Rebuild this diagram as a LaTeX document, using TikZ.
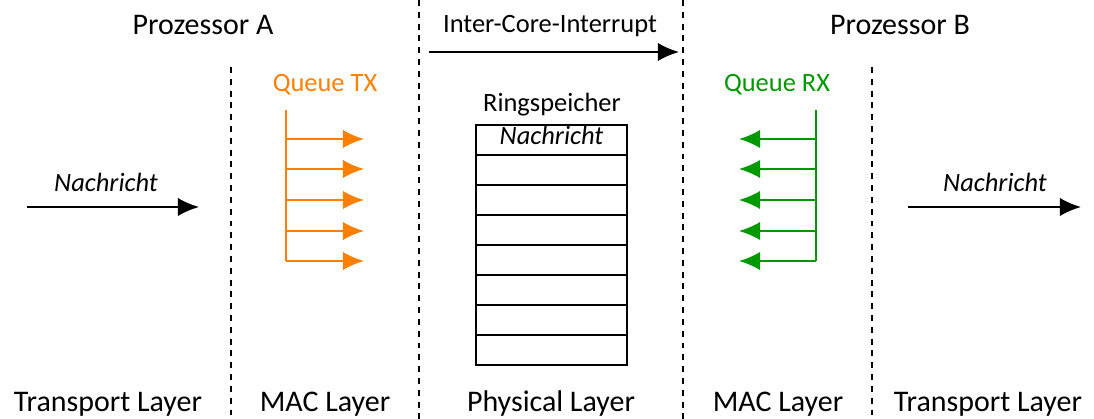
\documentclass[tikz,border=0pt]{standalone}
\usepackage{fontspec}
\setmainfont{Carlito}
\usetikzlibrary{arrows.meta}

\definecolor{txorange}{RGB}{255,128,0}
\definecolor{rxgreen}{RGB}{0,153,0}

\tikzset{
    big/.style={font=\fontsize{21.3}{25}\selectfont, anchor=base, inner sep=0pt},
    small/.style={font=\fontsize{18.8}{22}\selectfont, anchor=base, inner sep=0pt},
    layersep/.style={line width=1.2pt, dash pattern=on 4.2pt off 4.2pt},
    msg/.style={line width=1.4pt, -{Latex[length=15pt,width=13pt]}},
    queue/.style={line width=1.4pt},
}

\begin{document}
\begin{tikzpicture}[x=0.025cm, y=-0.025cm]
    \useasboundingbox (0, 0) rectangle (1094, 419);

    % layer borders
    \draw[layersep](231, 67) to (231, 419);
    \draw[layersep](419, 0) to (419, 419);
    \draw[layersep](683, 0) to (683, 419);
    \draw[layersep](872, 67) to (872, 419);

    \node[big] (procA) at(203, 35){Prozessor A};
    \node[big] (procB) at(900, 35){Prozessor B};

    \node[big] (transA) at(108, 412){Transport Layer};
    \node[big] (macA) at(325, 412){MAC Layer};
    \node[big] (phy) at(551, 412){Physical Layer};
    \node[big] (macB) at(778, 412){MAC Layer};
    \node[big] (transB) at(988, 412){Transport Layer};

    % messages in and out
    \coordinate (inS) at(27, 207);
    \coordinate (inE) at(199, 207);
    \draw[msg] (inS) -- (inE);
    \node[small] (inMsg) at(106, 192){\itshape Nachricht};

    \coordinate (outS) at(908, 207);
    \coordinate (outE) at(1081, 207);
    \draw[msg] (outS) -- (outE);
    \node[small] (outMsg) at(995, 192){\itshape Nachricht};

    % interrupt
    \coordinate (irqS) at(429, 52);
    \coordinate (irqE) at(679, 52);
    \draw[msg] (irqS) -- (irqE);
    \node[small] (irq) at(550, 33){Inter-Core-Interrupt};

    % ring buffer
    \node[small] (ringLabel) at(552, 112){Ringspeicher};
    \draw[line width=1.4pt] (476, 125) rectangle (627, 365);
    \foreach \r in {1,...,7}
        \draw[line width=1.4pt] (476, 125+30*\r) -- (627, 125+30*\r);
    \node[small] (ringMsg) at(551.5, 145){\itshape Nachricht};

    % queue TX
    \node[small, txorange] (txLabel) at(325, 92){Queue TX};
    \coordinate (txTop) at(286, 110);
    \coordinate (txBot) at(286, 261);
    \draw[queue, txorange] (txTop) -- (txBot);
    \foreach \y [count=\i] in {139, 169, 200, 231, 261}{
        \coordinate (txS\i) at(286, \y);
        \coordinate (txE\i) at(364, \y);
        \draw[msg, txorange] (txS\i) -- (txE\i);
    }

    % queue RX
    \node[small, rxgreen] (rxLabel) at(777, 92){Queue RX};
    \coordinate (rxTop) at(816, 110);
    \coordinate (rxBot) at(816, 261);
    \draw[queue, rxgreen] (rxTop) -- (rxBot);
    \foreach \y [count=\i] in {139, 169, 200, 231, 261}{
        \coordinate (rxS\i) at(816, \y);
        \coordinate (rxE\i) at(739, \y);
        \draw[msg, rxgreen] (rxS\i) -- (rxE\i);
    }
\end{tikzpicture}
\end{document}
